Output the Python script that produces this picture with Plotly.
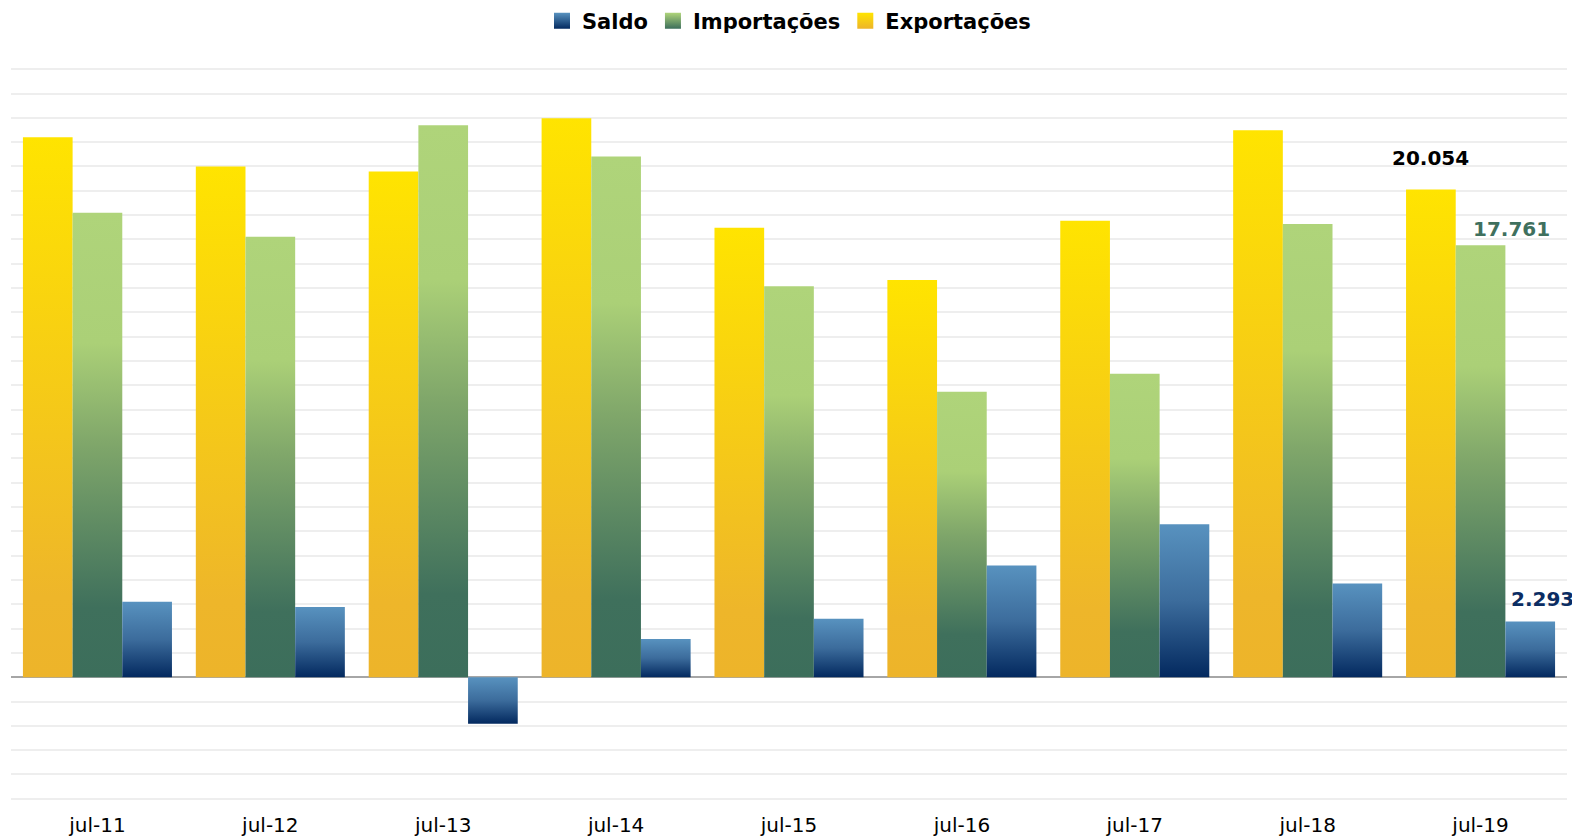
import plotly.graph_objects as go

# Balança comercial de julho (US$ milhões)
meses = ["jul-11", "jul-12", "jul-13", "jul-14", "jul-15", "jul-16", "jul-17", "jul-18", "jul-19"]
exportacoes = [22200, 21000, 20790, 22980, 18480, 16330, 18770, 22490, 20054]
importacoes = [19100, 18110, 22700, 21410, 16080, 11740, 12480, 18640, 17761]
saldo = [3100, 2890, -1910, 1570, 2400, 4590, 6290, 3850, 2293]

series = [
    # name, values, offset within group, gradient (bottom -> top), label colour
    ("Exportações", exportacoes, -1,
     [[0, "#EDB42A"], [0.15, "#EEB62A"], [1, "#FFE400"]], "#000000"),
    ("Importações", importacoes, 0,
     [[0, "#3C6E5B"], [0.15, "#3F705C"], [0.5, "#7FA66A"], [0.72, "#ABD077"], [1, "#AFD47A"]], "#3F705E"),
    ("Saldo", saldo, 1,
     [[0, "#03295F"], [0.5, "#3C6C9C"], [1, "#5892BF"]], "#0B2D63"),
]

group_w = 0.862
bar_w = group_w / 3

fig = go.Figure()

# bars drawn as filled shapes so they can carry a vertical gradient
for name, vals, k, scale, _ in series:
    for i, v in enumerate(vals):
        x0 = i + k * bar_w - bar_w / 2
        x1 = x0 + bar_w
        fig.add_trace(go.Scatter(
            x=[x0, x0, x1, x1, x0], y=[0, v, v, 0, 0],
            mode="lines", line=dict(width=0), fill="toself",
            fillgradient=dict(type="vertical", colorscale=scale),
            showlegend=False, hoverinfo="text",
            text=f"{name} {meses[i]}: {v:,.0f}".replace(",", "."),
        ))

# legend entries (small gradient squares)
legend_items = [("Saldo", "#5892BF", "#03295F"),
                ("Importações", "#AFD47A", "#3C6E5B"),
                ("Exportações", "#FFE400", "#EDB42A")]
for name, top, bottom in legend_items:
    fig.add_trace(go.Scatter(
        x=[None], y=[None], mode="markers", name=name,
        marker=dict(symbol="square", size=16, color=top,
                    gradient=dict(type="vertical", color=bottom)),
    ))

# value labels for the last month
last = len(meses) - 1
label_pos = {"Exportações": (0, 32), "Importações": (31, 16), "Saldo": (12, 22)}
for name, vals, k, _, color in series:
    xs, ys = label_pos[name]
    fig.add_annotation(
        x=last + k * bar_w, y=vals[last], xref="x", yref="y",
        text=f"{vals[last]:,.0f}".replace(",", "."),
        showarrow=False, xshift=xs, yshift=ys, yanchor="middle",
        font=dict(family="DejaVu Sans", size=20, color=color, weight="bold"),
    )

# page body has an 8px margin, so the figure is a bit smaller than the window
fig.update_layout(
    width=1572, height=832,
    margin=dict(l=3, r=13, t=60, b=40, autoexpand=False),
    paper_bgcolor="white", plot_bgcolor="white",
    showlegend=True,
    legend=dict(orientation="h", x=0.5, xanchor="center", y=1.064, yanchor="middle",
                font=dict(family="DejaVu Sans", size=21, color="#000000", weight="bold"),
                itemwidth=30, traceorder="normal"),
    xaxis=dict(range=[-0.5, len(meses) - 0.5], tickvals=list(range(len(meses))), ticktext=meses,
               showgrid=False, zeroline=False, showline=False, ticks="",
               ticklabelstandoff=11,
               tickfont=dict(family="DejaVu Sans", size=20, color="#000000")),
    yaxis=dict(range=[-5050, 25050], dtick=1000, showticklabels=False, ticks="",
               showgrid=True, gridcolor="#EEEEEE", gridwidth=1.5,
               zeroline=True, zerolinecolor="#A6A6A6", zerolinewidth=2, showline=False),
)

fig.write_html("out.html")
